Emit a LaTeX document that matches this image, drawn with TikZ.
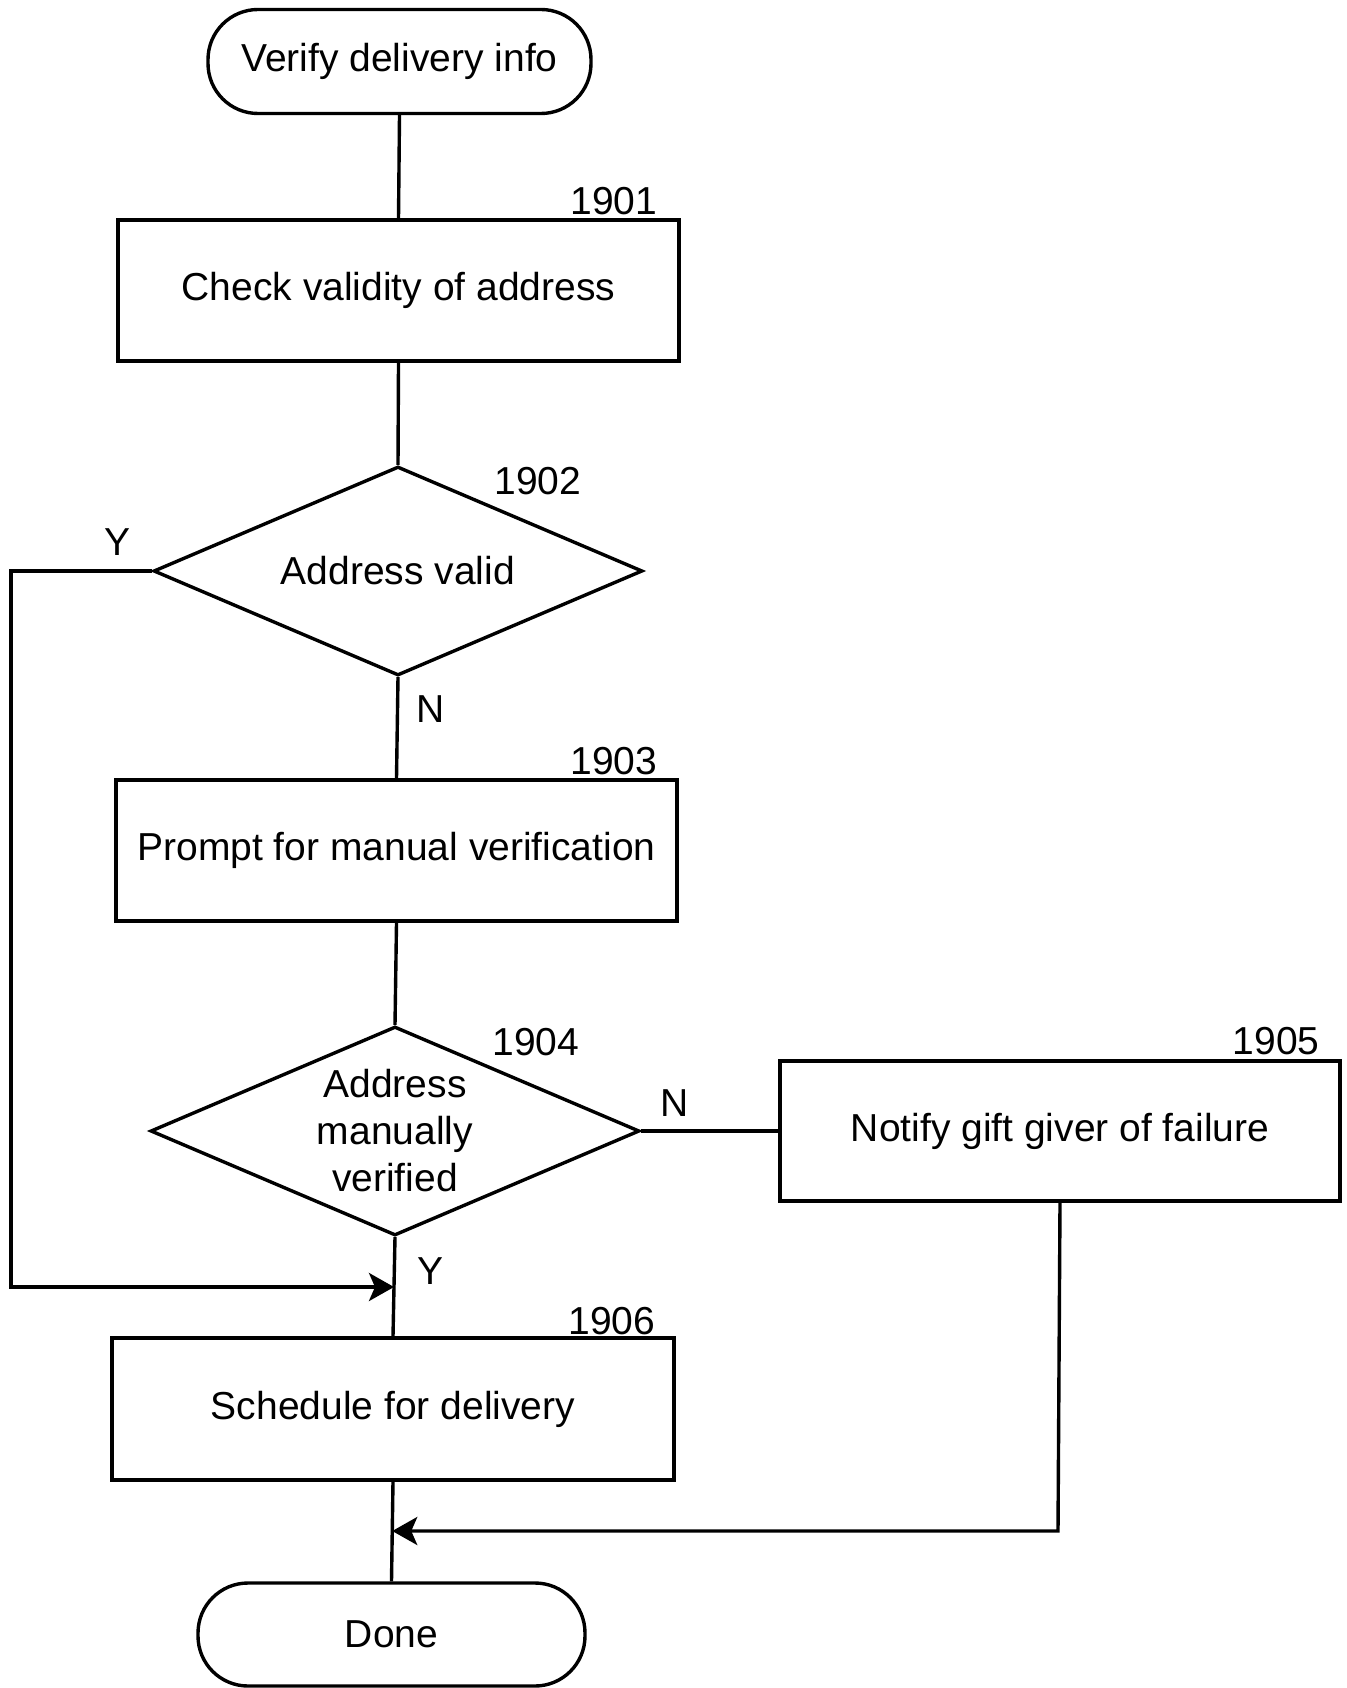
\documentclass[tikz,border=0pt]{standalone}
\usepackage{fontspec}
\setmainfont{Liberation Sans}
\usetikzlibrary{shapes.geometric,arrows.meta,calc}
\begin{document}
\begin{tikzpicture}[x=1pt,y=-1pt,
  every node/.style={font=\fontsize{39}{47}\selectfont},
  ln/.style={line width=3.4pt},
  term/.style={draw,ln,rectangle,rounded corners=50pt,minimum width=383pt,minimum height=104pt,inner sep=0pt},
  proc/.style={draw,ln,rectangle,minimum width=561pt,minimum height=141pt,inner sep=0pt},
  dec/.style={draw,ln,diamond,shape aspect=2.34,minimum width=489pt,minimum height=209pt,inner sep=0pt,align=center},
  lbl/.style={inner sep=0pt},
  arr/.style={ln,-{Stealth[length=25pt,width=28pt,inset=6pt]}}
]
\useasboundingbox (0,0) rectangle (1346,1688);
\node[term] (start) at (399.5,61.5) {Verify delivery info};
\node[proc] (b1901) at (398.5,290.5) {Check validity of address};
\node[dec] (d1902) at (398,571) {Address valid};
\node[proc] (b1903) at (396.5,850.5) {Prompt for manual verification};
\node[dec] (d1904) at (395,1131) {Address\\manually\\verified};
\node[proc,minimum width=560pt,minimum height=140pt] (b1905) at (1060,1131) {Notify gift giver of failure};
\node[proc,minimum width=562pt,minimum height=142pt] (b1906) at (393,1409) {Schedule for delivery};
\node[term,minimum width=387pt,minimum height=103pt] (done) at (391.5,1634.5) {Done};

\node[lbl] (n1901) at (614,201) {1901};
\node[lbl] (n1902) at (538,481) {1902};
\node[lbl] (n1903) at (614,761) {1903};
\node[lbl] (n1904) at (536,1042) {1904};
\node[lbl] (n1905) at (1276,1041) {1905};
\node[lbl] (n1906) at (612,1321) {1906};
\node[lbl] (y1) at (118,542) {Y};
\node[lbl] (nn1) at (431,709) {N};
\node[lbl] (nn2) at (675,1103) {N};
\node[lbl] (y2) at (431,1271) {Y};

\coordinate (ja) at ($(d1904.south)!0.5!(b1906.north)$);
\coordinate (jb) at ($(b1906.south)!0.5!(done.north)$);
\coordinate (lt) at (11,571);
\coordinate (lb) at (11,1287);
\coordinate (rb) at (1058,1531);

\draw[ln] (start.south) -- (b1901.north);
\draw[ln] (b1901.south) -- (d1902.north);
\draw[ln] (d1902.south) -- (b1903.north);
\draw[ln] (b1903.south) -- (d1904.north);
\draw[ln] (d1904.east) -- (b1905.west);
\draw[ln] (d1904.south) -- (b1906.north);
\draw[ln] (b1906.south) -- (done.north);
\draw[arr] (d1902.west) -- (lt) -- (lb) -- (lb -| ja);
\draw[arr] (b1905.south) -- (rb) -- (rb -| jb);
\end{tikzpicture}
\end{document}
